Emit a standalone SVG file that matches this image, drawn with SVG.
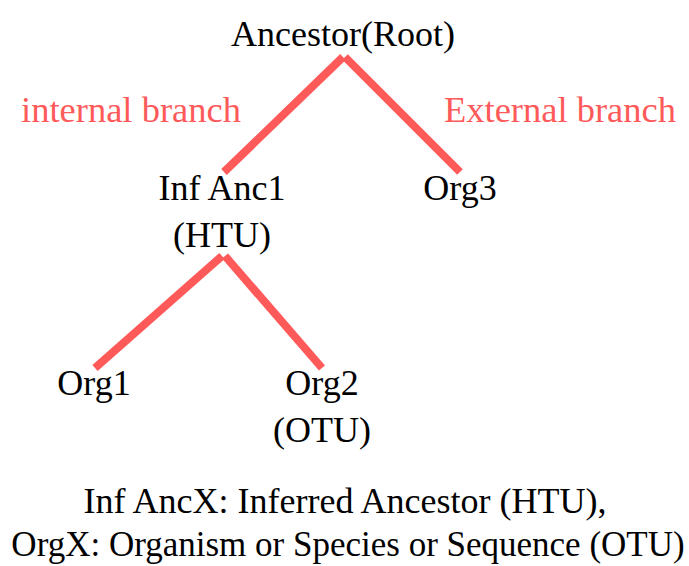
<svg xmlns="http://www.w3.org/2000/svg" width="689" height="566" viewBox="0 0 689 566">
<style>
text{font-family:"Liberation Serif","Times New Roman",serif;font-size:36px;fill:#000;text-anchor:middle}
.red{fill:#FF5A5A;font-size:36.5px}
.br{stroke:#FF5A5A;stroke-width:8;fill:none}
</style>
<rect width="689" height="566" fill="#fff"/>
<g id="connectors">
<line class="br" x1="343" y1="57" x2="224" y2="172"/>
<line class="br" x1="345" y1="57" x2="460" y2="172"/>
<line class="br" x1="222" y1="256" x2="95" y2="368"/>
<line class="br" x1="225" y1="256" x2="322" y2="368"/>
</g>
<g id="root"><text x="343" y="46">Ancestor(Root)</text></g>
<g id="internal-label"><text class="red" x="131" y="122">internal branch</text></g>
<g id="external-label"><text class="red" x="560" y="122">External branch</text></g>
<g id="infanc1"><text x="222" y="200">Inf Anc1</text><text x="222" y="247">(HTU)</text></g>
<g id="org3"><text x="460" y="200">Org3</text></g>
<g id="org1"><text x="94" y="395">Org1</text></g>
<g id="org2"><text x="322" y="395">Org2</text><text x="322" y="442">(OTU)</text></g>
<g id="legend"><text x="345" y="513">Inf AncX: Inferred Ancestor (HTU),</text><text x="348" y="556" style="font-size:35px">OrgX: Organism or Species or Sequence (OTU)</text></g>
</svg>
